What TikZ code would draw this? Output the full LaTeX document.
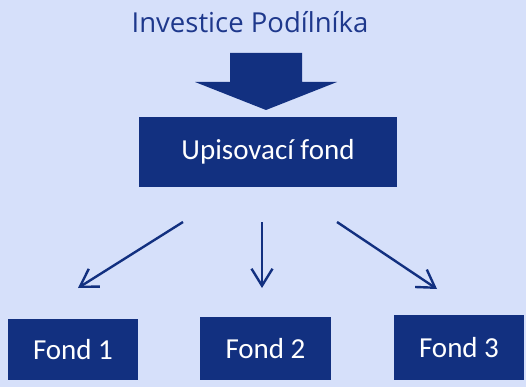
\documentclass[tikz,border=0pt]{standalone}
\usepackage{fontspec}
\setmainfont{Carlito}
\newfontfamily\titelschrift{Open Sans}
\usetikzlibrary{arrows.meta}
\definecolor{hintergrund}{RGB}{214,224,250}
\definecolor{navy}{RGB}{18,48,128}
\definecolor{titel}{RGB}{30,56,140}

\begin{document}
\begin{tikzpicture}[x=1pt,y=-1pt,
	box/.style={fill=navy,text=white,inner sep=0pt,font=\fontsize{29}{34}\selectfont},
	pfeil/.style={navy,line width=2.4pt,-{Straight Barb[length=17pt,width=21pt]}}]
	\fill[hintergrund] (0,0) rectangle (526,387);
	\node[titel,font=\titelschrift\fontsize{27.5}{32}\selectfont] (T) at (250,22) {Investice Podílníka};
	\fill[navy] (230,53) -- (302,53) -- (302,82) -- (337,82) -- (266,110) -- (195,82) -- (230,82) -- cycle;
	\node[box,minimum width=258pt,minimum height=70pt] (U) at (268,152) {Upisovací fond};
	\node[box,minimum width=130pt,minimum height=61pt] (F1) at (73,349.5) {Fond 1};
	\node[box,minimum width=131pt,minimum height=63pt] (F2) at (265.5,348.5) {Fond 2};
	\node[box,minimum width=130pt,minimum height=65pt] (F3) at (459,347.5) {Fond 3};
	\coordinate (A1) at (183,222);
	\coordinate (A2) at (262,222);
	\coordinate (A3) at (337,222);
	\coordinate (E1) at (78,288);
	\coordinate (E2) at (262,288);
	\coordinate (E3) at (437,289);
	\draw[pfeil] (A1) -- (E1);
	\draw[pfeil] (A2) -- (E2);
	\draw[pfeil] (A3) -- (E3);
\end{tikzpicture}
\end{document}
